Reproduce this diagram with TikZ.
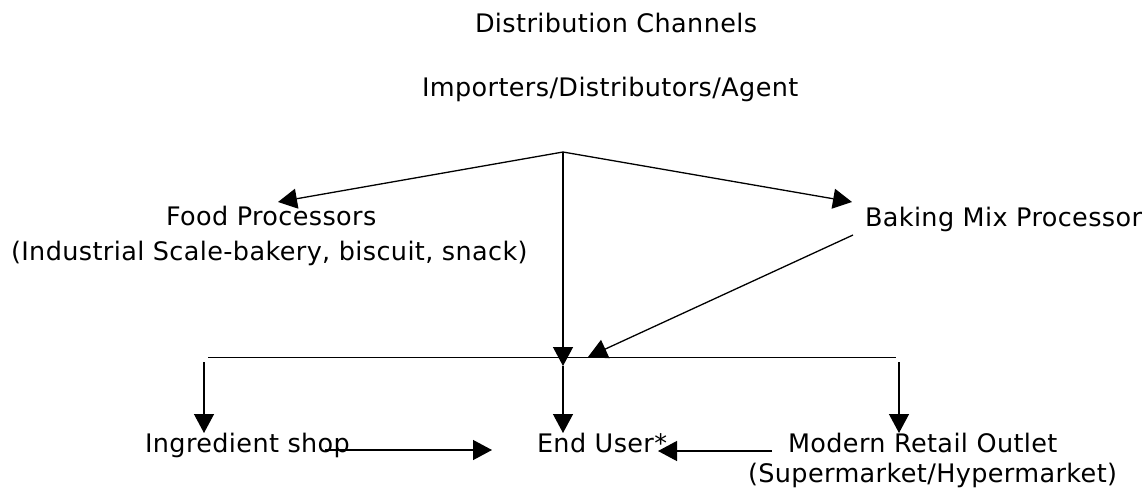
\documentclass[tikz,border=0pt]{standalone}
\usepackage{fontspec}
\setmainfont{DejaVu Sans}[LetterSpace=1.5]
\usetikzlibrary{arrows.meta}
\begin{document}
\begin{tikzpicture}[x=1pt,y=-1pt,
  lbl/.style={inner sep=0pt,outer sep=0pt,font=\fontsize{25.5}{30}\selectfont,anchor=base west},
  conn/.style={line width=1.3pt,-{Triangle[length=19pt,width=20pt]}},
  bus/.style={line width=1pt}]
\useasboundingbox (0,0) rectangle (1147,488);
% texts
\node[lbl] (dc) at (475,32.5) {Distribution Channels};
\node[lbl] (imp) at (422,96) {Importers/Distributors/Agent};
\node[lbl] (fp) at (166,225) {Food Processors};
\node[lbl] (fpsub) at (11,260) {(Industrial Scale-bakery, biscuit, snack)};
\node[lbl] (bm) at (865,226) {Baking Mix Processor};
\node[lbl] (is) at (145,452) {Ingredient shop};
\node[lbl] (eu) at (537,452) {End User*};
\node[lbl] (mr) at (788,452) {Modern Retail Outlet};
\node[lbl] (mrsub) at (748,482) {(Supermarket/Hypermarket)};
% coordinates
\coordinate (apex) at (563,152);
\coordinate (fpTip) at (278,202);
\coordinate (bmTip) at (852,202);
\coordinate (bmOut) at (853,235);
\coordinate (bmIn) at (588,357);
\coordinate (busL) at (208,357);
\coordinate (busR) at (896,357);
\coordinate (midA) at (563,366);
\coordinate (midB) at (563,433);
\coordinate (L1) at (204,362);
\coordinate (L2) at (204,433);
\coordinate (R1) at (899,362);
\coordinate (R2) at (899,433);
\coordinate (isOut) at (325,450);
\coordinate (euL) at (492,450);
\coordinate (mrOut) at (772,451);
\coordinate (euR) at (658,451);
% connectors
\draw[bus] (busL) -- (busR);
\draw[conn] (apex) -- (fpTip);
\draw[conn] (apex) -- (bmTip);
\draw[conn] (apex) -- (midA);
\draw[conn] (midA) -- (midB);
\draw[conn] (bmOut) -- (bmIn);
\draw[conn] (L1) -- (L2);
\draw[conn] (R1) -- (R2);
\draw[conn] (isOut) -- (euL);
\draw[conn] (mrOut) -- (euR);
\end{tikzpicture}
\end{document}
